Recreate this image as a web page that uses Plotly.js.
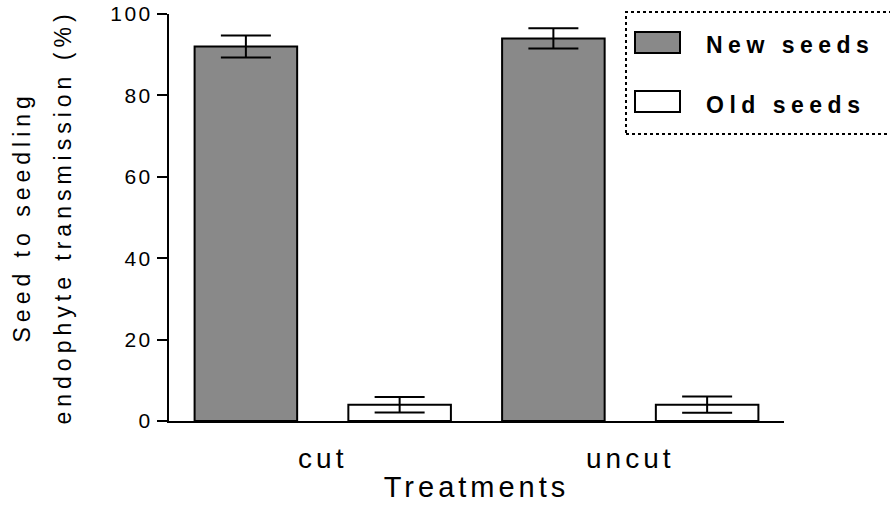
<!DOCTYPE html>
<html>
<head>
<meta charset="utf-8">
<script src="https://cdn.plot.ly/plotly-3.0.1.min.js"></script>
<style>
  html, body { margin: 0; padding: 0; background: #fff; }
  #chart { width: 890px; height: 512px; }
  .ytick text { letter-spacing: 2.5px; }
  .xtick text { letter-spacing: 4px; }
  .g-xtitle text { letter-spacing: 4px; }
</style>
</head>
<body>
<div id="chart"></div>
<script>
// ---- data ----
const categories = ["cut", "uncut"];
const seriesNames = ["New seeds", "Old seeds"];
const newSeeds = [92, 94];
const newSeedsErr = [2.7, 2.5];
const oldSeeds = [4, 4];
const oldSeedsErr = [1.9, 2.0];
const yTickVals = [0, 20, 40, 60, 80, 100];
const yTitleLines = ["Seed to seedling", "endophyte transmission (%)"];
const xTitle = "Treatments";

const FONT = "Liberation Sans, Arial, Helvetica, sans-serif";
const colors = ["#898989", "#ffffff"];

const traces = [
  {
    type: "bar", name: seriesNames[0], x: categories, y: newSeeds,
    marker: { color: colors[0], line: { color: "#000", width: 2 } },
    error_y: { type: "data", array: newSeedsErr, visible: true, color: "#000", thickness: 2, width: 25 },
    showlegend: false, hoverinfo: "skip"
  },
  {
    type: "bar", name: seriesNames[1], x: categories, y: oldSeeds,
    marker: { color: colors[1], line: { color: "#000", width: 2 } },
    error_y: { type: "data", array: oldSeedsErr, visible: true, color: "#000", thickness: 2, width: 25 },
    showlegend: false, hoverinfo: "skip"
  }
];

// plot area in pixels: x 169..784, y 14..421
const L = 169, R = 784, T = 14, B = 421;
const px = v => (v - L) / (R - L);
const py = v => (B - v) / (B - T);

const shapes = [
  { type: "rect", xref: "paper", yref: "paper", x0: px(626), x1: px(893), y0: py(134), y1: py(12),
    line: { color: "#000", width: 2, dash: "3px,3px" }, fillcolor: "rgba(0,0,0,0)", layer: "above" },
  { type: "rect", xref: "paper", yref: "paper", x0: px(635), x1: px(680), y0: py(53), y1: py(32),
    line: { color: "#000", width: 2 }, fillcolor: colors[0], layer: "above" },
  { type: "rect", xref: "paper", yref: "paper", x0: px(635), x1: px(680), y0: py(112), y1: py(91),
    line: { color: "#000", width: 2 }, fillcolor: colors[1], layer: "above" }
];

const annotations = [
  { xref: "paper", yref: "paper", x: px(704), y: py(45), xanchor: "left", yanchor: "middle", showarrow: false,
    text: '<span style="letter-spacing:5.5px"><b>' + seriesNames[0] + '</b></span>', font: { family: FONT, size: 23, color: "#000" } },
  { xref: "paper", yref: "paper", x: px(704), y: py(105), xanchor: "left", yanchor: "middle", showarrow: false,
    text: '<span style="letter-spacing:5.5px"><b>' + seriesNames[1] + '</b></span>', font: { family: FONT, size: 23, color: "#000" } },
  { xref: "paper", yref: "paper", x: px(21), y: 0.5, xanchor: "center", yanchor: "middle", showarrow: false, textangle: -90,
    text: '<span style="letter-spacing:5px">' + yTitleLines[0] + '</span>', font: { family: FONT, size: 23, color: "#000" } },
  { xref: "paper", yref: "paper", x: px(62), y: 0.5, xanchor: "center", yanchor: "middle", showarrow: false, textangle: -90,
    text: '<span style="letter-spacing:5px">' + yTitleLines[1] + '</span>', font: { family: FONT, size: 23, color: "#000" } }
];

const layout = {
  width: 890, height: 512,
  margin: { l: L, r: 890 - R, t: T, b: 512 - B, pad: 0 },
  paper_bgcolor: "#fff", plot_bgcolor: "#fff",
  font: { family: FONT, color: "#000" },
  barmode: "group", bargap: 0, bargroupgap: 0.333,
  showlegend: false,
  xaxis: {
    type: "category", range: [-0.5, 1.5], showline: true, linecolor: "#000", linewidth: 2,
    ticks: "outside", ticklen: 11, tickcolor: "rgba(0,0,0,0)", showgrid: false, zeroline: false,
    tickfont: { family: FONT, size: 28, color: "#000" },
    title: { text: xTitle, font: { family: FONT, size: 29, color: "#000" }, standoff: 4 }
  },
  yaxis: {
    range: [0, 100], tickvals: yTickVals, showline: true, linecolor: "#000", linewidth: 2,
    ticks: "outside", ticklen: 10, tickwidth: 2, tickcolor: "#000", showgrid: false, zeroline: false,
    tickfont: { family: FONT, size: 21, color: "#000" }
  },
  shapes: shapes,
  annotations: annotations
};

Plotly.newPlot("chart", traces, layout, { staticPlot: true, displayModeBar: false });
</script>
</body>
</html>
